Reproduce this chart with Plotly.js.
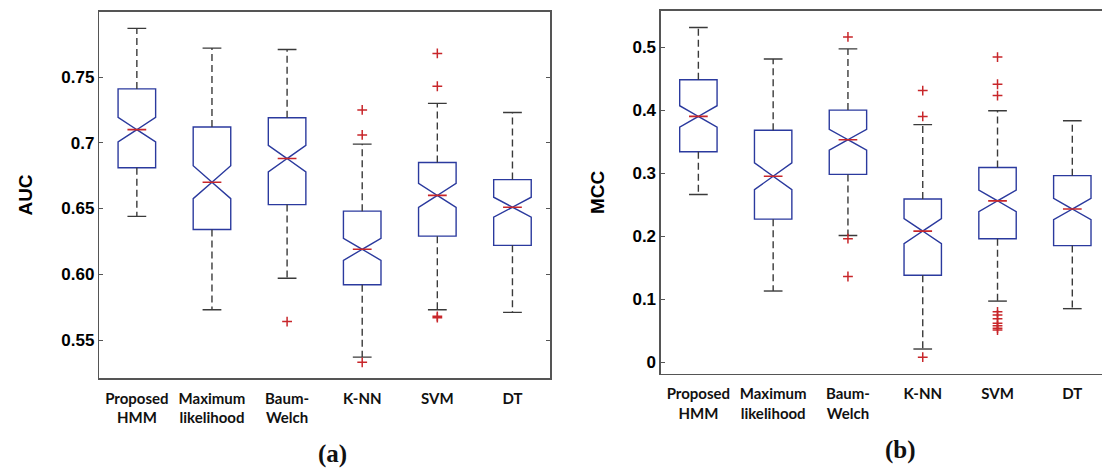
<!DOCTYPE html>
<html>
<head>
<meta charset="utf-8">
<script src="https://cdn.plot.ly/plotly-3.0.1.min.js"></script>
<style>html,body{margin:0;padding:0;background:#fff;}#chart{width:1102px;height:468px;}</style>
</head>
<body>
<div id="chart"></div>
<script>
// ---- Data ----
const categories = ["Proposed<br>HMM", "Maximum<br>likelihood", "Baum-<br>Welch", "K-NN", "SVM", "DT"];

// Panel (a): AUC
const aucLowerWhisker = [0.644, 0.573, 0.597, 0.537, 0.573, 0.571];
const aucQ1           = [0.681, 0.634, 0.653, 0.592, 0.629, 0.622];
const aucMedian       = [0.710, 0.670, 0.688, 0.619, 0.660, 0.651];
const aucQ3           = [0.741, 0.712, 0.719, 0.648, 0.685, 0.672];
const aucUpperWhisker = [0.787, 0.772, 0.771, 0.699, 0.730, 0.723];
const aucNotch        = [0.0094, 0.0125, 0.0101, 0.0084, 0.0092, 0.0076];
const aucOutliers     = [[], [], [0.564], [0.725, 0.706, 0.533], [0.768, 0.743, 0.568, 0.567], []];
const aucTickVals     = [0.55, 0.60, 0.65, 0.70, 0.75];
const aucTickText     = ["0.55", "0.60", "0.65", "0.7", "0.75"];

// Panel (b): MCC
const mccLowerWhisker = [0.266, 0.113, 0.201, 0.021, 0.097, 0.085];
const mccQ1           = [0.334, 0.227, 0.298, 0.138, 0.196, 0.185];
const mccMedian       = [0.390, 0.295, 0.353, 0.208, 0.256, 0.243];
const mccQ3           = [0.448, 0.368, 0.400, 0.259, 0.309, 0.296];
const mccUpperWhisker = [0.531, 0.481, 0.497, 0.377, 0.399, 0.383];
const mccNotch        = [0.0169, 0.0212, 0.0164, 0.0198, 0.0172, 0.0169];
const mccOutliers     = [[], [], [0.516, 0.196, 0.136], [0.431, 0.390, 0.008],
                         [0.484, 0.441, 0.423, 0.080, 0.075, 0.069, 0.062, 0.058, 0.054, 0.051], []];
const mccTickVals     = [0, 0.1, 0.2, 0.3, 0.4, 0.5];
const mccTickText     = ["0", "0.1", "0.2", "0.3", "0.4", "0.5"];

// ---- Styles ----
const BOX_W = 0.5, NOTCH_W = 0.5, CAP_HALF = 0.125;
const BLUE = '#2b3a9e', RED = '#c8262a', WHISK = '#3a3a3a', FRAME = '#555555';
const bold = s => '<b>' + s.split('<br>').join('</b><br><b>') + '</b>';

function panelTraces(lw, q1, med, q3, uw, notch, outl, xa, ya) {
  const pos = categories.map((_, i) => i);
  const traces = [];
  // dashed whisker stems
  const sx = [], sy = [];
  pos.forEach((p, i) => { sx.push(p, p, null, p, p, null); sy.push(q3[i], uw[i], null, q1[i], lw[i], null); });
  traces.push({type: 'scatter', mode: 'lines', x: sx, y: sy, xaxis: xa, yaxis: ya, hoverinfo: 'skip',
    line: {color: WHISK, width: 1.4, dash: '7px,4px'}, showlegend: false});
  // whisker caps
  const cx = [], cy = [];
  pos.forEach((p, i) => { cx.push(p - CAP_HALF, p + CAP_HALF, null, p - CAP_HALF, p + CAP_HALF, null); cy.push(uw[i], uw[i], null, lw[i], lw[i], null); });
  traces.push({type: 'scatter', mode: 'lines', x: cx, y: cy, xaxis: xa, yaxis: ya, hoverinfo: 'skip',
    line: {color: WHISK, width: 1.4}, showlegend: false});
  // notched boxes
  traces.push({type: 'box', x: pos, q1: q1, median: med, q3: q3, lowerfence: q1, upperfence: q3,
    notchspan: notch, notched: true, notchwidth: NOTCH_W, width: BOX_W, whiskerwidth: 0,
    boxpoints: false, fillcolor: 'rgba(0,0,0,0)', line: {color: BLUE, width: 1.4},
    xaxis: xa, yaxis: ya, showlegend: false, hoverinfo: 'skip'});
  // red median lines
  const mx = [], my = [];
  const mh = BOX_W / 2 * (1 - NOTCH_W);
  pos.forEach((p, i) => { mx.push(p - mh, p + mh, null); my.push(med[i], med[i], null); });
  traces.push({type: 'scatter', mode: 'lines', x: mx, y: my, xaxis: xa, yaxis: ya, hoverinfo: 'skip',
    line: {color: RED, width: 1.6}, showlegend: false});
  // outliers
  const ox = [], oy = [];
  outl.forEach((arr, i) => arr.forEach(v => { ox.push(pos[i]); oy.push(v); }));
  traces.push({type: 'scatter', mode: 'markers', x: ox, y: oy, xaxis: xa, yaxis: ya, hoverinfo: 'skip',
    marker: {symbol: 'cross-thin', size: 7, line: {color: RED, width: 1.5}}, showlegend: false});
  return traces;
}

const data = [].concat(
  panelTraces(aucLowerWhisker, aucQ1, aucMedian, aucQ3, aucUpperWhisker, aucNotch, aucOutliers, 'x', 'y'),
  panelTraces(mccLowerWhisker, mccQ1, mccMedian, mccQ3, mccUpperWhisker, mccNotch, mccOutliers, 'x2', 'y2')
);

const tickFontY = {family: 'Liberation Sans, Arial, sans-serif', size: 17, color: '#000'};
const tickFontX = {family: 'Lato, Open Sans, sans-serif', size: 15, color: '#111'};
const titleFont = {family: 'Liberation Sans, Arial, sans-serif', size: 19, color: '#000'};

const xBase = {tickvals: categories.map((_, i) => i), ticktext: categories.map(bold), ticks: '', showgrid: false,
  zeroline: false, showline: true, mirror: true, linecolor: FRAME, linewidth: 1.5, tickfont: tickFontX,
  ticklabelstandoff: 6, fixedrange: true};
const yBase = {ticks: 'inside', ticklen: 4, tickcolor: FRAME, showgrid: false, zeroline: false,
  showline: true, linecolor: FRAME, linewidth: 1.5, tickfont: tickFontY, fixedrange: true};

const layout = {
  width: 1102, height: 468,
  margin: {l: 0, r: 0, t: 0, b: 0},
  paper_bgcolor: '#fff', plot_bgcolor: '#fff',
  showlegend: false,
  xaxis: Object.assign({}, xBase, {domain: [0.0901, 0.4991], range: [-0.5, 5.5], anchor: 'y'}),
  yaxis: Object.assign({}, yBase, {domain: [0.1917, 0.975], range: [0.5209, 0.7997], anchor: 'x',
    tickvals: aucTickVals, ticktext: aucTickText.map(bold), mirror: 'ticks',
    title: {text: '<b>AUC</b>', font: titleFont, standoff: 23}}),
  xaxis2: Object.assign({}, xBase, {domain: [0.5998, 1], range: [-0.5, 5.397], anchor: 'y2'}),
  yaxis2: Object.assign({}, yBase, {domain: [0.2009, 0.9771], range: [-0.0186, 0.5576], anchor: 'x2',
    tickvals: mccTickVals, ticktext: mccTickText.map(bold), mirror: false,
    title: {text: '<b>MCC</b>', font: titleFont, standoff: 23}}),
  annotations: [
    {text: '<b>(a)</b>', xref: 'paper', yref: 'paper', x: 0.3013, y: 0.0299, xanchor: 'center', yanchor: 'middle',
      showarrow: false, font: {family: 'Liberation Serif, Times New Roman, serif', size: 25, color: '#111'}},
    {text: '<b>(b)</b>', xref: 'paper', yref: 'paper', x: 0.8171, y: 0.0385, xanchor: 'center', yanchor: 'middle',
      showarrow: false, font: {family: 'Liberation Serif, Times New Roman, serif', size: 25, color: '#111'}}
  ]
};

Plotly.newPlot('chart', data, layout, {displayModeBar: false, staticPlot: true});
</script>
</body>
</html>
